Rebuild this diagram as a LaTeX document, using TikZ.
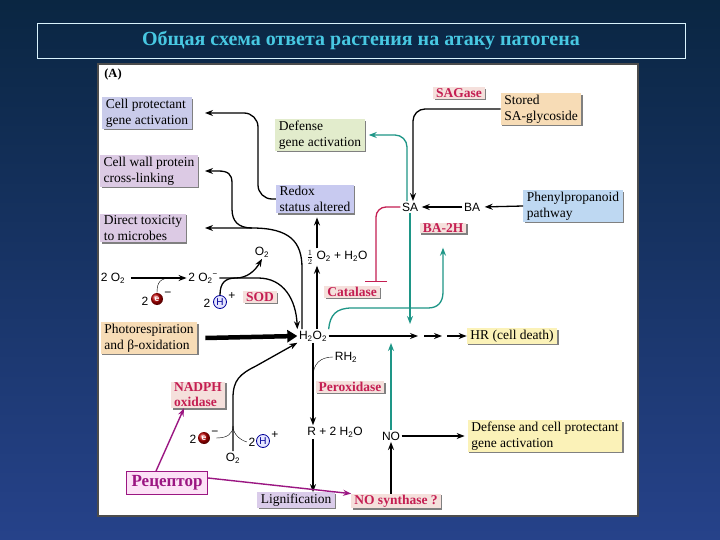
\documentclass[tikz,border=0pt]{standalone}
\usepackage{fontspec}
\setmainfont{Liberation Serif}
\setsansfont{Liberation Sans}
\usetikzlibrary{positioning, arrows.meta, shadows}
\definecolor{bgtop}{RGB}{10,38,66}
\definecolor{bgbot}{RGB}{38,66,138}
\definecolor{titlecol}{RGB}{72,200,226}
\definecolor{tealcol}{RGB}{30,150,135}
\definecolor{enzcol}{RGB}{196,30,82}
\definecolor{enzfill}{RGB}{245,224,220}
\definecolor{recol}{RGB}{155,22,130}
\definecolor{recfill}{RGB}{252,226,246}
\definecolor{cprot}{RGB}{201,203,234}
\definecolor{cwall}{RGB}{220,202,228}
\definecolor{dgreen}{RGB}{226,236,204}
\definecolor{redoxc}{RGB}{200,202,240}
\definecolor{peach}{RGB}{247,220,182}
\definecolor{pblue}{RGB}{190,216,242}
\definecolor{pyellow}{RGB}{251,242,184}
\definecolor{ligc}{RGB}{218,204,234}
\newcommand{\boxfont}{\fontsize{13.5}{16}\selectfont}
\newcommand{\enzfont}{\bfseries\fontsize{13.5}{15}\selectfont}
\newcommand{\chemfont}{\sffamily\fontsize{12}{14}\selectfont}
\tikzset{
  box/.style={fill=#1, align=left, font=\boxfont, inner xsep=3.5pt, inner ysep=1.5pt,
              drop shadow={shadow xshift=1.5pt, shadow yshift=-1.5pt, fill=black!55, opacity=.9}},
  enz/.style={box=enzfill, font=\enzfont, text=enzcol, inner ysep=1pt, inner xsep=3pt},
  chem/.style={font=\chemfont, inner sep=1.5pt},
  eball/.style={circle, ball color=red!75!black, text=white, inner sep=0pt, minimum size=12pt,
                font=\sffamily\bfseries\fontsize{8.5}{8.5}\selectfont},
  hball/.style={circle, draw=blue!60!black, fill=blue!10, text=blue!60!black, line width=0.8pt,
                inner sep=0pt, minimum size=13pt, font=\sffamily\fontsize{10}{10}\selectfont},
  recep/.style={draw=recol, fill=recfill, line width=1pt, text=recol, inner xsep=5pt, inner ysep=4pt,
                font=\bfseries\fontsize{17}{20}\selectfont},
  flow/.style={-{Stealth[length=8pt, width=6pt]}, line width=1.3pt},
  tflow/.style={flow, draw=tealcol},
  pflow/.style={flow, draw=recol, line width=1.4pt},
  inhib/.style={-{Bar[width=22pt]}, line width=1.3pt, draw=enzcol},
  bigflow/.style={-{Triangle[length=10pt, width=12pt]}, line width=4.5pt},
}

\begin{document}
\begin{tikzpicture}[x=1pt, y=-1pt]
  \useasboundingbox (0,0) rectangle (720,540);
  \shade[top color=bgtop, bottom color=bgbot] (0,0) rectangle (720,540);

  % title
  \draw[white!85!cyan, line width=0.9pt] (37,23) rectangle (685,58);
  \node[text=titlecol, font=\bfseries\fontsize{20}{23}\selectfont] (title) at (361,41)
    {Общая схема ответа растения на атаку патогена};

  % panel
  \draw[draw=black!70, line width=1.2pt, fill=white] (98,64) rectangle (638,516);
  \node[font=\bfseries\fontsize{12.5}{14}\selectfont] (lettA) at (113,74) {(A)};

  % boxes
  \node[box=cprot]   (cellprot) at (147,113) {Cell protectant\\gene activation};
  \node[box=cwall]   (cellwall) at (149,171) {Cell wall protein\\cross-linking};
  \node[box=cwall]   (tox)      at (143,228) {Direct toxicity\\to microbes};
  \node[box=dgreen]  (defgene)  at (320,135) {Defense\\gene activation};
  \node[box=redoxc]  (redox)    at (315,199) {Redox\\status altered};
  \node[box=peach]   (stored)   at (541,109) {Stored\\SA-glycoside};
  \node[box=pblue]   (phenyl)   at (573,206) {Phenylpropanoid\\pathway};
  \node[box=peach]   (photo)    at (149,338) {Photorespiration\\and β-oxidation};
  \node[box=pyellow] (hr)       at (512,336) {HR (cell death)};
  \node[box=pyellow] (defcell)  at (545,436) {Defense and cell protectant\\gene activation};
  \node[box=ligc]    (lignif)   at (296,500) {Lignification};

  % enzymes
  \node[enz] (sagase)   at (459,93)  {SAGase};
  \node[enz] (ba2h)     at (443,228) {BA-2H};
  \node[enz] (catalase) at (352,292) {Catalase};
  \node[enz] (sod)      at (260,297) {SOD};
  \node[enz] (perox)    at (350,387) {Peroxidase};
  \node[enz] (nadph)    at (198,395) {NADPH\\oxidase};
  \node[enz] (nosyn)    at (396,501) {NO synthase ?};

  % chemical species
  \node[chem] (sa)    at (410,207) {SA};
  \node[chem] (ba)    at (472,207) {BA};
  \node[chem] (half)  at (337,257) {$\frac{1}{2}$ O\textsubscript{2} + H\textsubscript{2}O};
  \node[chem] (o2a)   at (113,278) {2 O\textsubscript{2}};
  \node[chem] (o2b)   at (203,278) {2 O\textsubscript{2}\textsuperscript{−}};
  \node[chem] (o2c)   at (262,252) {O\textsubscript{2}};
  \node[chem] (h2o2)  at (313,336) {H\textsubscript{2}O\textsubscript{2}};
  \node[chem] (rh2)   at (346,357) {RH\textsubscript{2}};
  \node[chem] (r2h2o) at (335,432) {R + 2 H\textsubscript{2}O};
  \node[chem] (no)    at (391,436) {NO};
  \node[chem] (o2d)   at (233,458) {O\textsubscript{2}};

  % electrons and protons
  \node[chem]  (two1) at (145,301) {2};
  \node[eball] (e1)   at (157,299) {e};
  \node[chem]  (m1)   at (168,294) {−};
  \node[chem]  (two2) at (207,303) {2};
  \node[hball] (h1)   at (220,302) {H};
  \node[chem]  (p1)   at (232,296) {+};
  \node[chem]  (two3) at (193,439) {2};
  \node[eball] (e2)   at (204,438) {e};
  \node[chem]  (m2)   at (215,433) {−};
  \node[chem]  (two4) at (252,442) {2};
  \node[hball] (h2)   at (263,441) {H};
  \node[chem]  (p2)   at (275,435) {+};

  \node[recep] (recept) at (167,483) {Рецептор};

  \coordinate (tipx) at (205,0);
  \coordinate (hx) at (317,0);
  \coordinate (fork) at (233,426);
  \coordinate (split) at (252,228);
  \coordinate (rhj) at (313,377);

  % left side
  \draw[flow, rounded corners=14pt] (redox.west) -- (258,199) -- (258,113) -- (cellprot.east -| tipx);
  \draw[flow] ([xshift=-11pt]h2o2.north) -- (302,268) .. controls (302,242) and (290,228) .. (split) -- (tox.east -| tipx);
  \draw[flow] (split) .. controls (238,228) and (232,221) .. (232,209) -- (232,183)
    .. controls (232,174) and (228,171) .. (218,171) -- (cellwall.east -| tipx);

  \draw[flow, shorten <=4pt] (o2a.east) -- (o2b.west);
  \draw (e1.north) .. controls (157,282) and (160,278) .. (172,278);
  \draw[flow] (o2b.east) -- (258,278) .. controls (284,278) and (296,300) .. (h2o2.north west);
  \draw[flow] (h1.north) .. controls (220,283) and (225,278) .. (236,278)
    .. controls (247,278) and (255,271) .. (o2c.south);
  \draw[bigflow] ([xshift=8pt]photo.east) -- (h2o2.west);

  \draw[flow] (o2d.north) -- (fork) -- (233,398) .. controls (233,380) and (240,374) .. (256,366) -- (h2o2.south west);
  \draw ([xshift=6pt]e2.east) .. controls (227,438) and (233,434) .. (fork);
  \draw (two4.west) .. controls (240,440) and (233,434) .. (fork);

  % centre column
  \draw[flow] (h2o2.north -| hx) -- (half.south -| hx);
  \draw[flow, shorten >=4pt] (half.north -| hx) -- (redox.south -| hx);
  \draw[flow] (h2o2.south) -- (h2o2.south |- r2h2o.north);
  \draw (rh2.west) .. controls (320,357) and (313,364) .. (rhj);
  \draw[flow] (r2h2o.south -| h2o2.south) -- (lignif.north -| h2o2.south);

  % H2O2 to HR
  \draw[flow] (h2o2.east) -- (418,336);
  \foreach \a/\b in {424/442}{
    \draw[flow] (\a,336) -- (\b,336);
  }
  \draw[flow] (447,336) -- (hr.west);

  % SA branch
  \draw[flow, rounded corners=12pt] (stored.west) -| ([xshift=3pt]sa.north);
  \draw[flow, shorten >=2pt] (ba.west) -- (sa.east);
  \draw[flow, shorten >=3pt] (phenyl.west) -- (ba.east);
  \draw[tflow, rounded corners=12pt] ([xshift=-3pt]sa.north) |- ([xshift=4pt]defgene.east);
  \draw[tflow] (sa.south) -- (sa.south |- 0,324);
  \draw[inhib, rounded corners=10pt] (sa.west) -| ([xshift=24pt, yshift=4pt]catalase.north);
  \draw[tflow] (h2o2.north east) .. controls (330,315) and (336,308) .. (352,308) -- (428,308)
    .. controls (438,308) and (443,302) .. (443,292) -- ([yshift=-14pt]ba2h.south);

  % NO
  \draw[flow] (no.south |- nosyn.north) -- (no.south);
  \draw[flow, shorten >=3pt] (no.east) -- (defcell.west);
  \draw[tflow] (no.north) -- (no.north |- 0,343);

  % receptor
  \draw[pflow] ([xshift=-11pt]recept.north) -- ([xshift=-14pt]nadph.south);
  \draw[pflow] ([yshift=5pt]recept.east) -- (nosyn.north west);
\end{tikzpicture}
\end{document}
